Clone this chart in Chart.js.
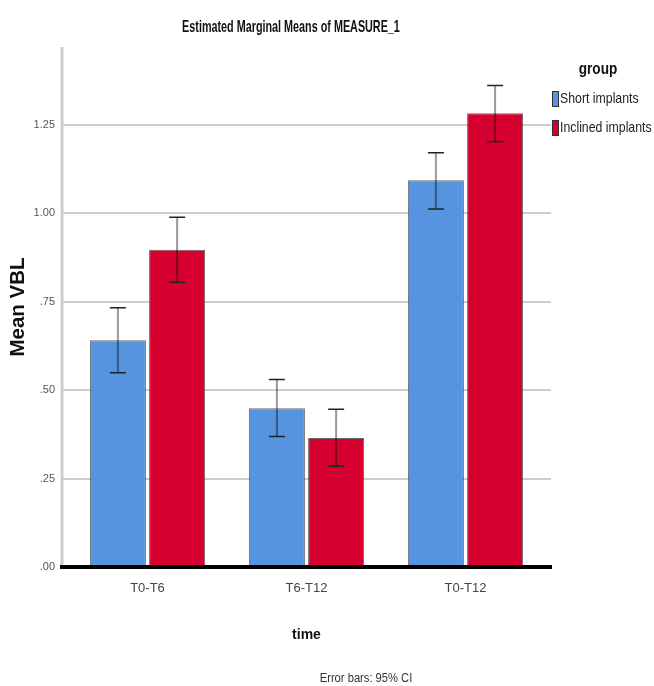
<!DOCTYPE html>
<html>
<head>
<meta charset="utf-8">
<script src="https://cdn.jsdelivr.net/npm/chart.js@4.4.1/dist/chart.umd.min.js"></script>
<style>
  html, body { margin: 0; padding: 0; background: #fff; }
  #wrap { width: 654px; height: 686px; }
</style>
</head>
<body>
<div id="wrap"><canvas id="chart" width="654" height="686"></canvas></div>
<script>
// data
const timeLabels = ['T0-T6', 'T6-T12', 'T0-T12'];
const groupNames = ['Short implants', 'Inclined implants'];
const shortMeans = [0.641, 0.449, 1.093];
const inclinedMeans = [0.897, 0.365, 1.283];
const shortLower = [0.549, 0.369, 1.012];
const shortUpper = [0.733, 0.530, 1.171];
const inclinedLower = [0.805, 0.285, 1.202];
const inclinedUpper = [0.989, 0.446, 1.361];
const yTicks = [0, 0.25, 0.5, 0.75, 1.0, 1.25];

const colors = ['#5794e0', '#d5002f'];
const SANS = "'Liberation Sans', Arial, sans-serif";

function fmtTick(v) {
    const s = v.toFixed(2);
    return s.startsWith('0') ? s.slice(1) : s;
}

// squeezed text, the SPSS export looks condensed
function narrowText(ctx, text, x, y, font, sx, align) {
    ctx.save();
    ctx.font = font;
    ctx.textAlign = align;
    ctx.textBaseline = 'middle';
    ctx.translate(x, y);
    ctx.scale(sx, 1);
    ctx.fillText(text, 0, 0);
    ctx.restore();
}

const extras = {
    id: 'extras',
    beforeDatasetsDraw(chart) {
        const { ctx, chartArea: a, scales: { y } } = chart;
        ctx.save();
        ctx.strokeStyle = '#cdcdcd';
        ctx.lineWidth = 2;
        yTicks.forEach(v => {
            if (v === 0) return;
            const py = Math.round(y.getPixelForValue(v));
            ctx.beginPath();
            ctx.moveTo(a.left - 6, py);
            ctx.lineTo(a.right + 6, py);
            ctx.stroke();
        });
        // y axis line
        ctx.lineWidth = 3;
        ctx.beginPath();
        ctx.moveTo(a.left - 6, a.top);
        ctx.lineTo(a.left - 6, a.bottom);
        ctx.stroke();
        ctx.restore();
    },
    afterDatasetsDraw(chart) {
        const { ctx, chartArea: a, scales: { y } } = chart;
        const lows = [shortLower, inclinedLower];
        const highs = [shortUpper, inclinedUpper];
        ctx.save();

        // error bars
        chart.data.datasets.forEach((ds, i) => {
            chart.getDatasetMeta(i).data.forEach((bar, j) => {
                const top = y.getPixelForValue(highs[i][j]);
                const bot = y.getPixelForValue(lows[i][j]);
                ctx.strokeStyle = 'rgba(0,0,0,0.4)';
                ctx.lineWidth = 2;
                ctx.beginPath();
                ctx.moveTo(bar.x, top);
                ctx.lineTo(bar.x, bot);
                ctx.stroke();
                ctx.strokeStyle = '#222';
                ctx.lineWidth = 1.5;
                ctx.beginPath();
                ctx.moveTo(bar.x - 8, top); ctx.lineTo(bar.x + 8, top);
                ctx.moveTo(bar.x - 8, bot); ctx.lineTo(bar.x + 8, bot);
                ctx.stroke();
            });
        });

        // thick baseline
        const y0 = y.getPixelForValue(0);
        ctx.strokeStyle = '#000';
        ctx.lineWidth = 4;
        ctx.beginPath();
        ctx.moveTo(a.left - 8, y0);
        ctx.lineTo(a.right + 7, y0);
        ctx.stroke();

        // title
        ctx.fillStyle = '#111';
        narrowText(ctx, 'Estimated Marginal Means of MEASURE_1', 291, 27, 'bold 17px ' + SANS, 0.635, 'center');

        // legend
        narrowText(ctx, 'group', 598, 69, 'bold 17px ' + SANS, 0.8, 'center');
        chart.data.datasets.forEach((ds, i) => {
            const cy = 98 + i * 29;
            ctx.fillStyle = ds.backgroundColor;
            ctx.fillRect(552, cy - 7, 6, 15);
            ctx.strokeStyle = '#333';
            ctx.lineWidth = 1;
            ctx.strokeRect(552.5, cy - 6.5, 6, 15);
            ctx.fillStyle = '#222';
            narrowText(ctx, ds.label, 560, cy + 1, '15px ' + SANS, 0.82, 'left');
        });

        // footnote
        ctx.fillStyle = '#333';
        narrowText(ctx, 'Error bars: 95% CI', 366, 678, '13px ' + SANS, 0.86, 'center');
        ctx.restore();
    }
};

new Chart(document.getElementById('chart'), {
    type: 'bar',
    data: {
        labels: timeLabels,
        datasets: [
            {
                label: groupNames[0],
                data: shortMeans,
                backgroundColor: colors[0],
                borderColor: 'rgba(40,40,40,0.7)',
                borderWidth: 1,
                categoryPercentage: 0.745,
                barPercentage: 0.946
            },
            {
                label: groupNames[1],
                data: inclinedMeans,
                backgroundColor: colors[1],
                borderColor: 'rgba(40,40,40,0.7)',
                borderWidth: 1,
                categoryPercentage: 0.745,
                barPercentage: 0.946
            }
        ]
    },
    options: {
        responsive: false,
        animation: false,
        layout: { padding: { top: 47, right: 109, bottom: 0, left: 0 } },
        plugins: {
            legend: { display: false },
            tooltip: { enabled: false }
        },
        scales: {
            x: {
                grid: { display: false, drawTicks: false },
                border: { display: false },
                ticks: { color: '#444', font: { family: SANS, size: 13 }, padding: 14 },
                title: {
                    display: true,
                    text: 'time',
                    color: '#111',
                    font: { family: SANS, size: 14, weight: 'bold' },
                    padding: { top: 0, bottom: 42 }
                },
                afterFit(scale) { scale.height = 119; }
            },
            y: {
                min: 0,
                max: 1.47,
                grid: { display: false, drawTicks: false },
                border: { display: false },
                afterBuildTicks(scale) { scale.ticks = yTicks.map(v => ({ value: v })); },
                ticks: {
                    color: '#555',
                    font: { family: SANS, size: 11 },
                    padding: 13,
                    callback: v => fmtTick(v)
                },
                title: {
                    display: true,
                    text: 'Mean VBL',
                    color: '#111',
                    font: { family: SANS, size: 20.5, weight: 'bold' },
                    padding: { top: 6, bottom: 0 }
                },
                afterFit(scale) { scale.width = 68; }
            }
        }
    },
    plugins: [extras]
});
</script>
</body>
</html>
